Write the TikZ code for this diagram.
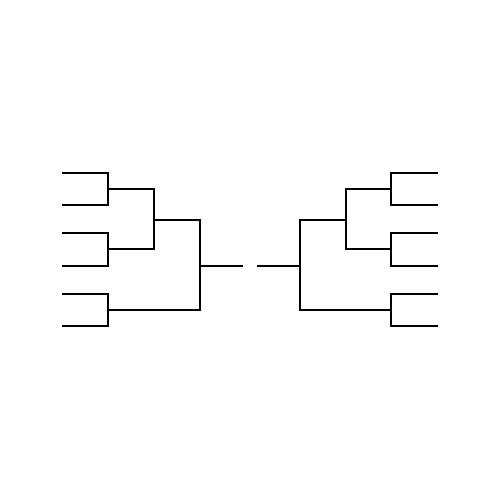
\documentclass[tikz,border=0pt]{standalone}
\begin{document}
\begin{tikzpicture}[x=0.02cm,y=-0.02cm,line width=1.6pt]
                    \fill[white] (0,0) rectangle (500,500);

                    % Partie gauche
                    \draw (62,173) -- (108,173) -- (108,205) -- (62,205);
                    \draw (62,233) -- (108,233) -- (108,266) -- (62,266);
                    \draw (62,294) -- (108,294) -- (108,326) -- (62,326);
                    \draw (108,189) -- (154,189) -- (154,249) -- (108,249);
                    \draw (154,220) -- (200,220) -- (200,310) -- (108,310);
                    \draw (200,266) -- (243,266);

                    % Partie droite
                    \draw (438,173) -- (391,173) -- (391,205) -- (438,205);
                    \draw (438,233) -- (391,233) -- (391,266) -- (438,266);
                    \draw (438,294) -- (391,294) -- (391,326) -- (438,326);
                    \draw (391,189) -- (346,189) -- (346,249) -- (391,249);
                    \draw (346,220) -- (300,220) -- (300,310) -- (391,310);
                    \draw (300,266) -- (257,266);
\end{tikzpicture}
\end{document}
